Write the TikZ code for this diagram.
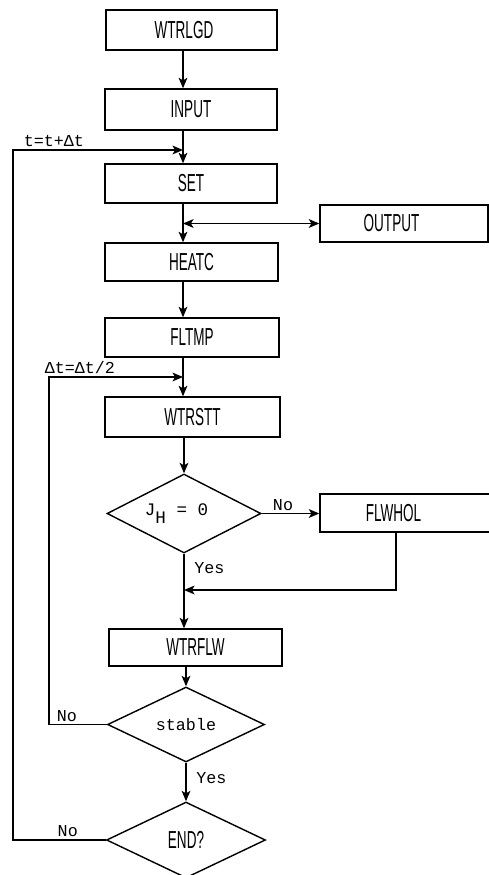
\documentclass[tikz,border=0pt]{standalone}
\usepackage{fontspec}
\usepackage{tikz}
\usetikzlibrary{
    calc,
    arrows.meta,
    shapes.geometric
}
\newfontfamily\boxfont{Liberation Sans}[FakeStretch=0.55]
\newfontfamily\typefont{Liberation Mono}

\begin{document}
\begin{tikzpicture}[x=0.02cm,y=-0.02cm,line width=0.8pt,
    >={Stealth[length=6pt,width=5pt,inset=1.5pt]},
    box/.style={draw,minimum width=3.46cm,minimum height=0.78cm,inner sep=2pt,font=\boxfont\fontsize{14}{16}\selectfont},
    decide/.style={draw,diamond,shape aspect=2,minimum width=3.12cm,minimum height=1.52cm,inner sep=0pt},
    lbl/.style={font=\typefont\fontsize{9.5}{11}\selectfont,inner sep=1.5pt}]
\useasboundingbox (0,0) rectangle (489,875);
%\draw [help lines,step=50] (0,0) grid (489,875);
\coordinate (spine) at (183,0);
\coordinate (tloop) at (13,150);
\coordinate (dtloop) at (49,377);
\coordinate (merge) at (184,590);
\coordinate (flx) at (396,0);
\node[box,minimum width=3.42cm,minimum height=0.80cm] (wtrlgd) at (191.5,30) {WTRLGD\rule{0.3cm}{0pt}};
\node[box,minimum width=3.44cm,minimum height=0.82cm] (input) at (191,109.5) {INPUT};
\node[box,minimum width=3.44cm] (set) at (191,183.5) {SET};
\node[box,minimum width=3.36cm,minimum height=0.74cm] (output) at (404,223.5) {OUTPUT\rule{0.5cm}{0pt}};
\node[box,minimum height=0.76cm] (heatc) at (191.5,262) {HEATC};
\node[box,minimum width=3.48cm] (fltmp) at (192,337.5) {FLTMP};
\node[box,minimum width=3.50cm,minimum height=0.80cm] (wtrstt) at (192.5,417) {WTRSTT};
\node[decide,minimum width=3.08cm,minimum height=1.58cm,font=\typefont\fontsize{10}{11}\selectfont] (jh) at (184,513.5) {J\raisebox{-0.9ex}{H} = 0\rule{0.3cm}{0pt}};
\node[box,minimum width=3.44cm,minimum height=0.76cm] (flwhol) at (406,513) {FLWHOL\rule{0.5cm}{0pt}};
\node[box,minimum height=0.74cm] (wtrflw) at (195.5,647.5) {WTRFLW};
\node[decide,minimum width=3.14cm,minimum height=1.50cm,font=\typefont\fontsize{9.5}{11}\selectfont] (stable) at (186,724.5) {stable};
\node[decide,minimum width=3.18cm,font=\boxfont\fontsize{14}{16}\selectfont] (endq) at (186,840) {END?};
\draw [->] (wtrlgd.south -| spine) -- (input.north -| spine);
\draw [->] (input.south -| spine) -- (set.north -| spine);
\draw [->] (set.south -| spine) -- (heatc.north -| spine);
\draw [<->] (spine |- output.west) -- (output.west);
\draw [->] (heatc.south -| spine) -- (fltmp.north -| spine);
\draw [->] (fltmp.south -| spine) -- (wtrstt.north -| spine);
\draw [->] (wtrstt.south -| jh.north) -- (jh.north);
\draw [->] (jh.east) -- node[lbl,above,pos=0.37]{No} (jh.east -| flwhol.west);
\draw [->] (flwhol.south -| flx) |- (merge);
\draw [->] (jh.south) -- node[lbl,right,pos=0.4,xshift=4pt]{Yes} (merge) -- (merge |- wtrflw.north);
\draw [->] (wtrflw.south -| stable.north) -- (stable.north);
\draw [->] (stable.south) -- node[lbl,right,pos=0.4,xshift=4pt]{Yes} (endq.north);
\draw [->] (stable.west) -- node[lbl,above,pos=0.69]{No} (stable.west -| dtloop) -- (dtloop)
    -- node[lbl,above,pos=0.23]{Δt=Δt/2} (dtloop -| spine);
\draw [->] (endq.west) -- node[lbl,above,pos=0.41]{No} (endq.west -| tloop) -- (tloop)
    -- node[lbl,above,pos=0.24]{t=t+Δt} (tloop -| spine);
\end{tikzpicture}
\end{document}
